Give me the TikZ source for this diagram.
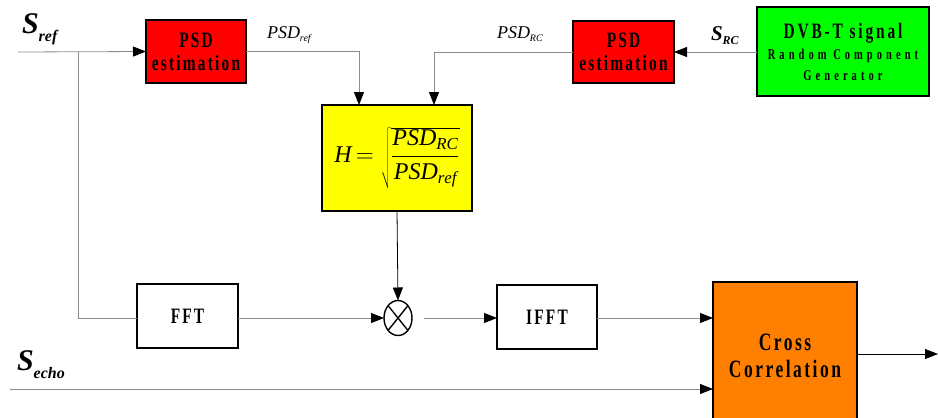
\documentclass[tikz,border=0pt]{standalone}
\usepackage{fontspec}
\setmainfont{Liberation Serif}
\newfontfamily\blk[FakeStretch=0.7]{Liberation Serif}
\usetikzlibrary{arrows.meta,shapes.geometric}
\definecolor{psdR}{rgb}{1,0,0}
\definecolor{hY}{rgb}{1,1,0}
\definecolor{genG}{rgb}{0,1,0}
\definecolor{xcO}{rgb}{1,0.5,0}
\definecolor{wireG}{HTML}{8C8C8C}
\newcommand{\bx}[3]{\blk\fontsize{#1}{#2}\selectfont\bfseries\addfontfeatures{LetterSpace=#3}}
\newcommand{\gsub}{\fontsize{15}{21}\selectfont\addfontfeatures{LetterSpace=27}}
\newcommand{\lab}[5]{% #1 size, #2 sub size, #3 drop, #4 main, #5 sub
 {\fontsize{#1}{#1}\selectfont #4}\raisebox{-#3}{\fontsize{#2}{#2}\selectfont #5}}

\begin{document}
\begin{tikzpicture}[x=1pt,y=-1pt,every node/.style={inner sep=0pt,outer sep=0pt},
 blok/.style={draw=black,line width=1.2pt,align=center},
 wire/.style={draw=wireG,line width=.8pt},
 feed/.style={wire,-{Triangle[length=13pt,width=10pt,color=black]}}]
\path[use as bounding box] (0,0) rectangle (938,418);
% ---------- blocks
\node[blok,fill=psdR,minimum width=100pt,minimum height=63pt,font={\bx{22}{23}{10}}] (psdref) at (196,51.5) {PSD\\estimation};
\node[blok,fill=psdR,minimum width=101pt,minimum height=62pt,font={\bx{22}{23}{10}}] (psdrc) at (623.5,52) {PSD\\estimation};
\node[blok,fill=genG,minimum width=172pt,minimum height=89pt,font={\bx{22}{21}{13}}] (gen) at (843,51.5) {DVB-T signal\\{\gsub Random Component}\\{\gsub Generator}};
\node[blok,fill=hY,minimum width=150pt,minimum height=106pt] (hbox) at (397,158)
 {\fontsize{24}{28}\selectfont$\mathit{H}\,{=}\;\sqrt{\displaystyle\frac{\mathit{PSD}_{\mathit{RC}}}{\mathit{PSD}_{\mathit{ref}}}\rule[-12pt]{0pt}{38pt}}$};
\node[ellipse,draw,line width=1.4pt,minimum width=28pt,minimum height=35pt] (mult) at (398,318) {};
\draw[line width=1.4pt] (mult.north east) -- (mult.south west) (mult.north west) -- (mult.south east);
\node[blok,fill=white,minimum width=101pt,minimum height=64pt,font={\bx{22}{23}{10}}] (fft) at (187.5,316) {FFT};
\node[blok,fill=white,minimum width=100pt,minimum height=64pt,font={\bx{22}{23}{10}}] (ifft) at (547,317) {IFFT};
\node[blok,fill=xcO,minimum width=144pt,minimum height=148pt,font={\bx{25}{27}{10}}] (xcorr) at (785,356) {Cross\\Correlation};
% ---------- signal labels
\node[anchor=base west] (lsref) at (22,33) {\lab{30}{16}{8pt}{\bfseries\itshape S}{\bfseries\itshape ref}};
\node[anchor=base west] (lpsdref) at (267,38) {\lab{18}{10}{3pt}{\itshape PSD}{\itshape ref}};
\node[anchor=base west] (lpsdrc) at (497,38) {\lab{18}{10}{3pt}{\itshape PSD}{\itshape RC}};
\node[anchor=base west] (lsrc) at (711,40) {\lab{21}{12}{4pt}{\bfseries\itshape S}{\bfseries\itshape RC}};
\node[anchor=base west] (lsecho) at (17,370) {\lab{30}{16}{8pt}{\bfseries\itshape S}{\bfseries\itshape echo}};
% ---------- connectors
\coordinate (srefin) at (18,52);
\coordinate (tap) at (78,52);
\coordinate (echoin) at (10,389);
\coordinate (out) at (938,354);
\draw[feed] (srefin) -- (psdref.west);
\draw[wire] (tap) |- (fft.west |- mult);
\draw[feed] (psdref.east) -| ([xshift=-38pt]hbox.north);
\draw[feed] (psdrc.west) -| ([xshift=37pt]hbox.north);
\draw[feed] (gen.west |- psdrc) -- (psdrc.east);
\draw[feed,draw=black] (hbox.south) -- (mult.north);
\draw[feed] (fft.east |- mult) -- (mult.west);
\draw[feed] ([xshift=12pt]mult.east) -- (ifft.west |- mult);
\draw[feed] (ifft.east |- mult) -- (xcorr.west |- mult);
\draw[feed] (echoin) -- (xcorr.west |- echoin);
\draw[feed,draw=black] (xcorr.east |- out) -- (out);
\end{tikzpicture}
\end{document}
